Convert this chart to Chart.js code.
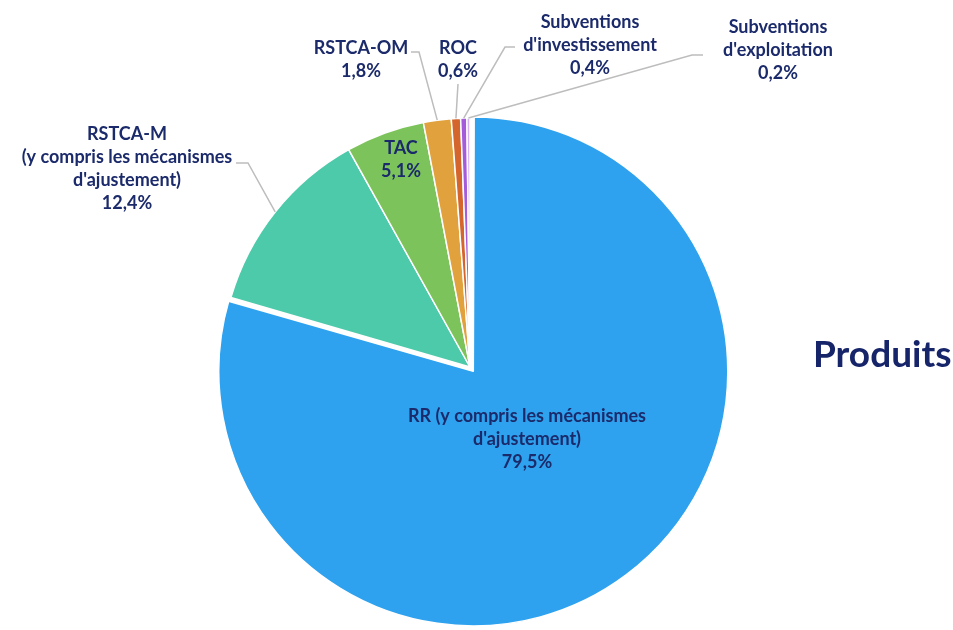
<!DOCTYPE html>
<html lang="fr">
<head>
<meta charset="utf-8">
<title>Produits</title>
<script src="https://cdn.jsdelivr.net/npm/chart.js@4.4.1/dist/chart.umd.min.js"></script>
<style>
    html, body { margin: 0; padding: 0; background: #ffffff; }
    #wrap { position: relative; width: 953px; height: 630px; }
</style>
</head>
<body>
<div id="wrap"><canvas id="pieChart" width="953" height="630"></canvas></div>
<script>
// Chart data
const categories = [
    'RR (y compris les mécanismes d\'ajustement)',
    'RSTCA-M (y compris les mécanismes d\'ajustement)',
    'TAC',
    'RSTCA-OM',
    'ROC',
    'Subventions d\'investissement',
    'Subventions d\'exploitation'
];
const shares = [79.5, 12.4, 5.1, 1.8, 0.6, 0.4, 0.2];
// how each label is broken into lines (the % line is added from shares)
const labelLines = [
    ['RR (y compris les mécanismes', 'd\'ajustement)'],
    ['RSTCA-M', '(y compris les mécanismes', 'd\'ajustement)'],
    ['TAC'],
    ['RSTCA-OM'],
    ['ROC'],
    ['Subventions', 'd\'investissement'],
    ['Subventions', 'd\'exploitation']
];
const sliceColors = ['#2EA2EE', '#4DCAAA', '#7CC35B', '#E1A13C', '#D4652C', '#A45CDB', '#D4B3EE'];

const TEXT_COLOR = '#1B2A6A';
const LINE_COLOR = '#BDBDBD';

// label placement: text centre x, first line y, optional leader (tick start -> elbow -> slice edge)
const labelLayout = [
    { x: 527, y: 416, inside: true },
    { x: 127, y: 134, tick: [236, 163], elbow: [248, 163] },
    { x: 401, y: 148, inside: true },
    { x: 361, y: 48, tick: [411, 52], elbow: [419, 52] },
    { x: 458, y: 48, tick: [458, 84], elbow: [458, 84] },
    { x: 590, y: 22, tick: [515, 47], elbow: [505, 47] },
    { x: 778, y: 27, tick: [703, 55], elbow: [692, 55] }
];

function formatShare(v) {
    return v.toFixed(1).replace('.', ',') + '%';
}

const sliceLabels = {
    id: 'sliceLabels',
    afterDatasetsDraw(chart) {
        const ctx = chart.ctx;
        const arcs = chart.getDatasetMeta(0).data;
        ctx.save();
        arcs.forEach((arc, i) => {
            const p = arc.getProps(['x', 'y', 'startAngle', 'endAngle', 'outerRadius'], true);
            const mid = (p.startAngle + p.endAngle) / 2;
            const layout = labelLayout[i];

            if (!layout.inside) {
                const ex = p.x + Math.cos(mid) * p.outerRadius;
                const ey = p.y + Math.sin(mid) * p.outerRadius;
                ctx.strokeStyle = LINE_COLOR;
                ctx.lineWidth = 1.5;
                ctx.beginPath();
                ctx.moveTo(layout.tick[0], layout.tick[1]);
                ctx.lineTo(layout.elbow[0], layout.elbow[1]);
                ctx.lineTo(ex, ey);
                ctx.stroke();
            }

            const lines = labelLines[i].concat([formatShare(shares[i])]);
            ctx.fillStyle = TEXT_COLOR;
            ctx.font = 'bold 18px Lato, "Open Sans", sans-serif';
            ctx.textAlign = 'center';
            ctx.textBaseline = 'middle';
            lines.forEach((line, k) => {
                ctx.fillText(line, layout.x, layout.y + k * 23);
            });
        });

        // side title
        ctx.font = 'bold 37px Lato, "Open Sans", sans-serif';
        ctx.fillStyle = '#16246A';
        ctx.textAlign = 'left';
        ctx.fillText('Produits', 813, 355);
        ctx.restore();
    }
};

const chart = new Chart(document.getElementById('pieChart').getContext('2d'), {
    type: 'pie',
    data: {
        labels: categories,
        datasets: [{
            data: shares,
            backgroundColor: sliceColors,
            borderColor: '#ffffff',
            borderWidth: 1.5,
            offset: [22, 0, 0, 0, 0, 0, 0],
            radius: 249
        }]
    },
    options: {
        responsive: false,
        animation: false,
        layout: { padding: { top: 106, bottom: 2, left: 0, right: 13 } },
        plugins: {
            legend: { display: false },
            tooltip: { enabled: false }
        }
    },
    plugins: [sliceLabels]
});
</script>
</body>
</html>
